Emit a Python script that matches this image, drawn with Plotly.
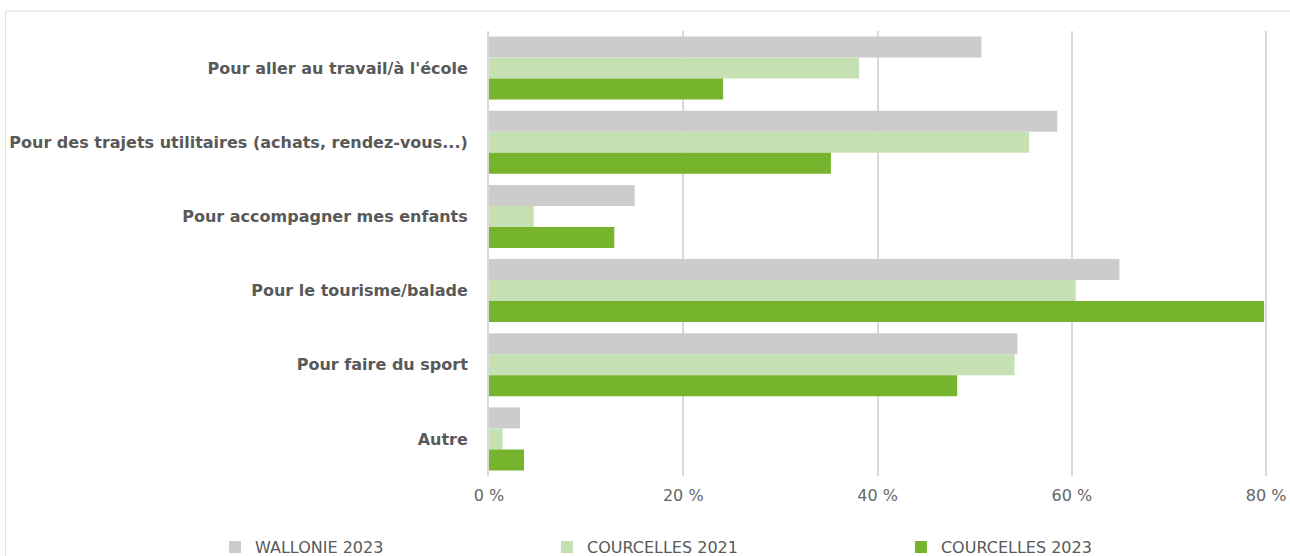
import plotly.graph_objects as go

categories = [
    "Pour aller au travail/à l'école",
    "Pour des trajets utilitaires (achats, rendez-vous...)",
    "Pour accompagner mes enfants",
    "Pour le tourisme/balade",
    "Pour faire du sport",
    "Autre",
]
wallonie_2023 = [50.7, 58.5, 15.0, 64.9, 54.4, 3.2]
courcelles_2021 = [38.1, 55.6, 4.6, 60.4, 54.1, 1.4]
courcelles_2023 = [24.1, 35.2, 12.9, 79.8, 48.2, 3.6]
series_names = ["WALLONIE 2023", "COURCELLES 2021", "COURCELLES 2023"]
tick_values = [0, 20, 40, 60, 80]
tick_labels = ["0 %", "20 %", "40 %", "60 %", "80 %"]

colors = ["#cccccc", "#c5e0b3", "#76b42e"]
legend_ids = ["legend", "legend2", "legend3"]
legend_x = [0.1667, 0.424, 0.6984]

fig = go.Figure()
for name, vals, col, lg in zip(series_names, [wallonie_2023, courcelles_2021, courcelles_2023], colors, legend_ids):
    fig.add_trace(go.Bar(
        y=categories, x=vals, name=name, orientation="h",
        marker=dict(color=col, line=dict(width=0)),
        legend=lg, hoverinfo="x+name",
    ))

def legend_cfg(x):
    return dict(
        orientation="h", yanchor="middle", xanchor="left",
        xref="container", yref="container", x=x, y=0.016,
        font=dict(family="DejaVu Sans", size=16, color="#595959"),
        bgcolor="rgba(0,0,0,0)",
    )

fig.update_layout(
    width=1290, height=556,
    margin=dict(l=489, r=22, t=31, b=80, autoexpand=False),
    paper_bgcolor="white", plot_bgcolor="white",
    barmode="group", bargap=0.15, bargroupgap=0,
    showlegend=True,
    legend=legend_cfg(legend_x[0]),
    legend2=legend_cfg(legend_x[1]),
    legend3=legend_cfg(legend_x[2]),
    xaxis=dict(
        range=[0, 80.2], tickvals=tick_values, ticktext=tick_labels,
        showgrid=True, gridcolor="#d9d9d9", gridwidth=2,
        zeroline=False, showline=False,
        tickfont=dict(family="DejaVu Sans", size=16, color="#666666"),
        ticks="", ticklabelstandoff=8,
    ),
    yaxis=dict(
        autorange="reversed", showline=True, linecolor="#d9d9d9", linewidth=2,
        ticks="", ticklabelstandoff=16,
        tickfont=dict(family="DejaVu Sans", size=16, color="#595959", weight="bold"),
    ),
    shapes=[
        dict(type="line", xref="paper", yref="paper", x0=-0.62, x1=1.04, y0=1.045, y1=1.045,
             line=dict(color="#dddddd", width=1)),
        dict(type="line", xref="paper", yref="paper", x0=-0.6205, x1=-0.6205, y0=1.045, y1=-0.2,
             line=dict(color="#dddddd", width=1)),
    ],
)

fig.write_html("out.html", config={"displayModeBar": False},
               post_script="document.body.style.margin='0';")
